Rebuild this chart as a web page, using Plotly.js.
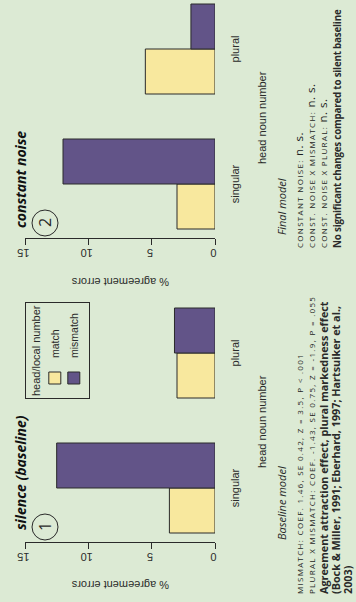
<!DOCTYPE html>
<html>
<head>
<meta charset="utf-8">
<script src="https://cdn.plot.ly/plotly-3.0.1.min.js"></script>
<style>
html,body{margin:0;padding:0;width:356px;height:602px;overflow:hidden;background:#dceAd4;}
#wrap{position:absolute;left:0;top:0;width:602px;height:356px;transform-origin:0 0;transform:translate(0px,602px) rotate(-90deg);}
</style>
</head>
<body>
<div id="wrap"><div id="chart" style="width:602px;height:356px;"></div></div>
<script>
// ---- data ----
const categories = ['singular', 'plural'];
const seriesNames = ['match', 'mismatch'];
const silenceMatch = [3.6, 3.0];
const silenceMismatch = [12.5, 3.2];
const noiseMatch = [3.0, 5.5];
const noiseMismatch = [12.0, 1.9];
const valueTicks = [0, 5, 10, 15];
const panelTitles = ['silence (baseline)', 'constant noise'];
const panelNumbers = ['1', '2'];
const legendTitle = 'head/local number';
const xTitle = 'head noun number';
const yTitle = '% agreement errors';
const modelNames = ['Baseline model', 'Final model'];
const baselineLines = [
  'MISMATCH: coef. 1.46, SE 0.42, z = 3.5, p < .001',
  'PLURAL X MISMATCH: coef. -1.43, SE 0.75, z = -1.9, p = .055'
];
const baselineBold = [
  'Agreement attraction effect, plural markedness effect',
  '(Bock &amp; Miller, 1991; Eberhard, 1997; Hartsuiker et al.,',
  '2003)'
];
const finalLines = [
  'CONSTANT NOISE: <span style="font-variant:normal;letter-spacing:0.5px">n. s.</span>',
  'CONST. NOISE X MISMATCH: <span style="font-variant:normal;letter-spacing:0.5px">n. s.</span>',
  'CONST. NOISE X PLURAL: <span style="font-variant:normal;letter-spacing:0.5px">n. s.</span>'
];
const finalBold = ['No significant changes compared to silent baseline'];

// ---- style ----
const W = 602, H = 356;
const BG = '#dceAd4';
const YEL = '#f8e89e';
const PUR = '#625488';
const INK = '#2a2a2a';
const FAX = 'Liberation Sans, Arial, sans-serif';
const FTX = 'Open Sans, sans-serif';
const px = v => v / W;
const py = v => 1 - v / H;

function bar(y, name, color, xa, ya, show) {
  return {type: 'bar', x: categories, y: y, name: name, xaxis: xa, yaxis: ya,
    showlegend: show, legendgroup: name,
    marker: {color: color, line: {color: INK, width: 1}}, hoverinfo: 'none'};
}
const data = [
  bar(silenceMatch, seriesNames[0], YEL, 'x', 'y', true),
  bar(silenceMismatch, seriesNames[1], PUR, 'x', 'y', true),
  bar(noiseMatch, seriesNames[0], YEL, 'x2', 'y2', false),
  bar(noiseMismatch, seriesNames[1], PUR, 'x2', 'y2', false)
];

const unit = (303 - 60) / 1.8;
function xax(d0, d1, anchor) {
  return {domain: [px(d0), px(d1)], range: [-0.4, -0.4 + (d1 - d0) / unit],
    type: 'category', showline: false, ticks: '', showgrid: false, zeroline: false,
    tickfont: {family: FAX, size: 11, color: INK}, ticklabelstandoff: 12, anchor: anchor, fixedrange: true};
}
function yax(anchor) {
  return {domain: [py(215), py(25)], range: [0, 15], tickvals: valueTicks, tickangle: -90,
    ticks: 'outside', ticklen: 6, tickcolor: INK, tickwidth: 1, showline: true, linecolor: INK, linewidth: 1,
    showgrid: false, zeroline: false, anchor: anchor, tickfont: {family: FAX, size: 11, color: INK}, fixedrange: true};
}

const ann = [];
function A(text, x, y, font, extra) {
  ann.push(Object.assign({text: text, x: px(x), y: py(y), xref: 'paper', yref: 'paper',
    xanchor: 'left', yanchor: 'middle', showarrow: false, font: font}, extra || {}));
}
const panels = [
  {title: 70, circ: 75, cx: 180, yt: 17, txt: 6, head: 60, h: baselineLines, b: baselineBold, by: 323, bs: 10.8, ls: 0},
  {title: 372, circ: 379, cx: 484, yt: 320, txt: 352, head: 365, h: finalLines, b: finalBold, by: 337, bs: 9.8, ls: -0.2}
];
const shapes = [];
panels.forEach((p, i) => {
  A(panelTitles[i], p.title, 20, {family: FTX, size: 14, color: '#111', weight: 'bold', style: 'italic'});
  A(panelNumbers[i], p.circ, 45, {family: FTX, size: 16, color: INK}, {xanchor: 'center'});
  shapes.push({type: 'circle', xref: 'paper', yref: 'paper', xsizemode: 'pixel', ysizemode: 'pixel',
    xanchor: px(p.circ), yanchor: py(45), x0: -13, x1: 13, y0: -13, y1: 13, line: {color: INK, width: 1}});
  A(xTitle, p.cx, 262, {family: FAX, size: 11, color: INK}, {xanchor: 'center'});
  A(yTitle, p.yt, 120, {family: FAX, size: 11, color: INK}, {xanchor: 'center', textangle: -90});
  A(modelNames[i], p.head, 281, {family: FTX, size: 11, color: INK, style: 'italic'});
  p.h.forEach((t, j) => A('<span style="letter-spacing:1.3px">' + t + '</span>', p.txt, 298 + 12 * j,
    {family: FTX, size: 11.5, color: '#1e1e1e', variant: 'all-small-caps'}));
  p.b.forEach((t, j) => A('<span style="letter-spacing:' + p.ls + 'px">' + t + '</span>', p.txt, p.by + 12 * j,
    {family: FTX, size: p.bs, color: INK, weight: 'bold'}));
});

const layout = {
  width: W, height: H, margin: {l: 0, r: 0, t: 0, b: 0, pad: 0},
  paper_bgcolor: BG, plot_bgcolor: 'rgba(0,0,0,0)',
  barmode: 'group', bargap: 1 / 3, bargroupgap: 0,
  xaxis: xax(60, 303, 'y'), yaxis: yax('x'),
  xaxis2: xax(364, 602, 'y2'), yaxis2: yax('x2'),
  legend: {x: px(203), y: py(25), xanchor: 'left', yanchor: 'top', bgcolor: 'rgba(0,0,0,0)',
    bordercolor: INK, borderwidth: 1, font: {family: FAX, size: 10.5, color: INK},
    title: {text: legendTitle, font: {family: FAX, size: 11, color: INK}}, traceorder: 'normal', tracegroupgap: 0},
  annotations: ann, shapes: shapes,
  font: {family: FAX, color: INK}
};
Plotly.newPlot('chart', data, layout, {displayModeBar: false, staticPlot: true});
</script>
</body>
</html>
